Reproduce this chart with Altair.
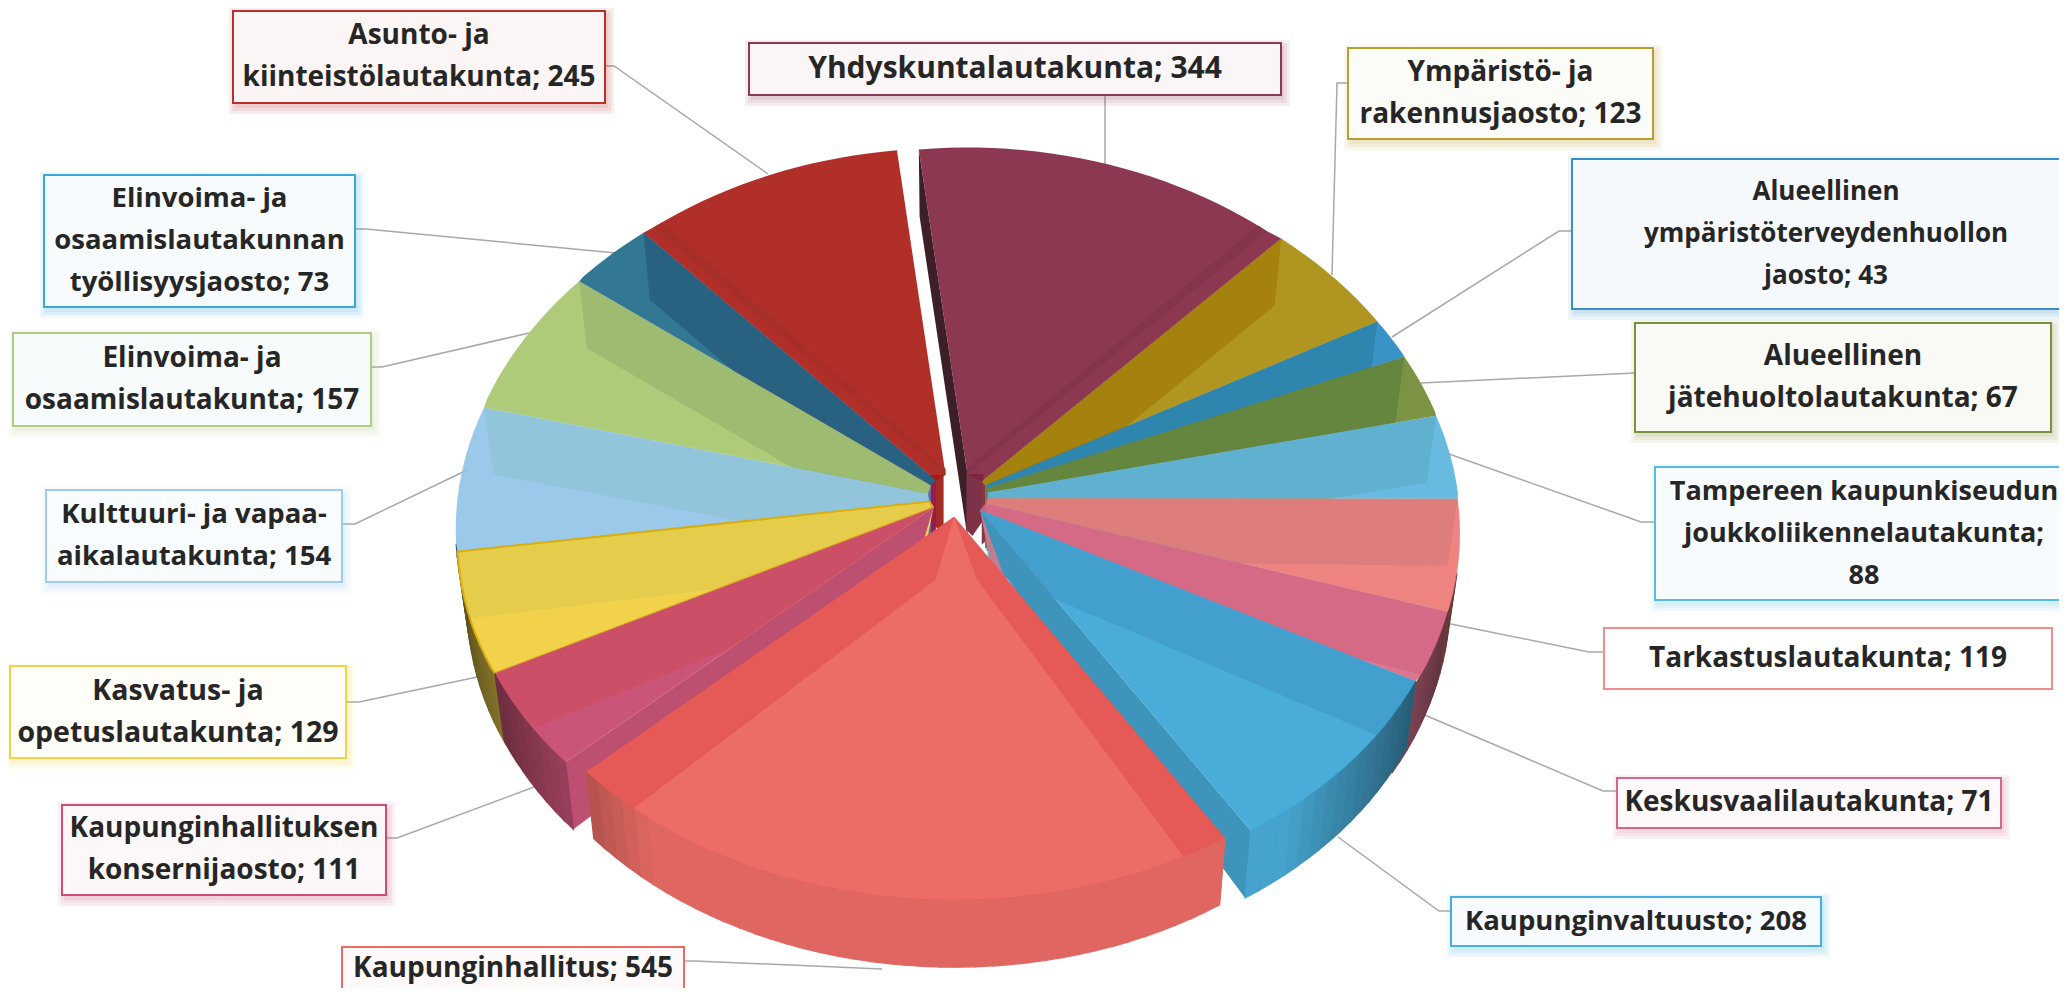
import math
import altair as alt
import pandas as pd

# ---- values ----
NAMES = [
    ["Yhdyskuntalautakunta"],
    ["Ympäristö- ja", "rakennusjaosto"],
    ["Alueellinen", "ympäristöterveydenhuollon", "jaosto"],
    ["Alueellinen", "jätehuoltolautakunta"],
    ["Tampereen kaupunkiseudun", "joukkoliikennelautakunta"],
    ["Tarkastuslautakunta"],
    ["Keskusvaalilautakunta"],
    ["Kaupunginvaltuusto"],
    ["Kaupunginhallitus"],
    ["Kaupunginhallituksen", "konsernijaosto"],
    ["Kasvatus- ja", "opetuslautakunta"],
    ["Kulttuuri- ja vapaa-", "aikalautakunta"],
    ["Elinvoima- ja", "osaamislautakunta"],
    ["Elinvoima- ja", "osaamislautakunnan", "työllisyysjaosto"],
    ["Asunto- ja", "kiinteistölautakunta"],
]
VALUES = [344, 123, 43, 67, 88, 119, 71, 208, 545, 111, 129, 154, 157, 73, 245]

# ---- colours ----
FACE = ["#8b3850", "#b19622", "#3894c6", "#7c9344", "#68bbe0", "#ee8480", "#dc7590", "#49acd9",
        "#ec6c66", "#cb5578", "#f2d24b", "#9ac9e9", "#aecb7b", "#347892", "#b0312a"]
STRIP = ["#3d2027", "#a5820f", "#2e86ae", "#66863f", "#60b2cf", "#de7f7c", "#d46a85", "#439fce",
         "#e55a56", "#cb5067", "#e5cd4c", "#92c5dc", "#9ebc72", "#2a6180", "#a52d2a"]
BORDER = ["#8b3a52", "#b8a030", "#3a8fc8", "#76923c", "#5bb8e0", "#f08c8c", "#d4688a", "#45aee0",
          "#ee6a66", "#cc4e78", "#f2d24b", "#9ccdf0", "#b0cc80", "#3aa8dc", "#b8302c"]
TINT = ["#faf6f7", "#fbfbf7", "#f6f9fb", "#f9f9f6", "#f8fbfe", "#ffffff", "#fdf8f9", "#f8fbfd",
        "#fef9f9", "#fcf8fa", "#fefdf8", "#f9fcfe", "#f8fbfc", "#f8fbfd", "#fbf6f5"]
SHADOW = [1, 1, 1, 1, 1, 0, 1, 1, 0, 1, 1, 1, 1, 1, 1]
LEADER_COLOR = "#a8a8a8"
TEXT_COLOR = "#262626"

# ---- layout (px of the picture): label boxes x0, y0, x1, y1 ----
BOXES = [
    (749, 43, 1281, 95), (1348, 48, 1653, 139), (1572, 159, 2080, 309), (1635, 323, 2051, 432),
    (1655, 467, 2073, 600), (1604, 628, 2052, 689), (1617, 778, 2001, 828), (1451, 897, 1821, 946),
    (342, 947, 684, 1000), (62, 805, 386, 895), (10, 666, 346, 758), (46, 490, 342, 582),
    (13, 333, 371, 426), (44, 175, 355, 307), (233, 11, 605, 103),
]
LABEL_SIZE = [30, 28, 26, 28, 27, 28, 28, 27.5, 28, 28, 28.5, 27.5, 28, 27.5, 28]
LEADERS = [
    [(1105, 95), (1105, 165)],
    [(1348, 83), (1337, 83), (1332, 275)],
    [(1572, 231), (1559, 231), (1392, 337)],
    [(1635, 373), (1421, 383)],
    [(1655, 522), (1641, 522), (1449, 454)],
    [(1604, 652), (1589, 652), (1446, 623)],
    [(1616, 791), (1603, 791), (1420, 713)],
    [(1451, 911), (1439, 911), (1338, 837)],
    [(684, 961), (695, 961), (882, 969)],
    [(386, 838), (397, 838), (534, 787)],
    [(346, 702), (359, 702), (482, 676)],
    [(342, 524), (355, 524), (467, 470)],
    [(371, 367), (382, 367), (529, 333)],
    [(355, 229), (366, 229), (616, 253)],
    [(605, 66), (614, 66), (768, 174)],
]
CX, CY, RX, RY = 958, 495, 470, 355
EX, EY = 30, 22          # explosion of every slice
KX, KY = 0.10, 0.08      # perspective
DEPTH, SQUEEZE = 67, 0.98
START = -6.6
LINE_STEP = 42
FONT = "Open Sans"
TOP_ALPHA = 0.9
KVALTUUSTO, KHALL, KONSERNI, KASVATUS, YHDYSK, ASUNTO = 7, 8, 9, 10, 0, 14


def rgb(h):
    return tuple(int(h[i:i + 2], 16) for i in (1, 3, 5))


def hexs(c):
    return "#%02x%02x%02x" % tuple(max(0, min(255, int(round(v)))) for v in c)


total = sum(VALUES)
angles = [START]
for v in VALUES:
    angles.append(angles[-1] + v / total * 360)

polys = []
uid = 0


def add(points, fill, op, stroke="transparent", sw=0.0):
    global uid
    uid += 1
    for x, y in list(points) + [points[0]]:
        polys.append(dict(id=uid, x=x, y=y, idx=len(polys), fill=fill, op=op, stroke=stroke, sw=sw))


def apex_of(i):
    m = math.radians((angles[i] + angles[i + 1]) / 2)
    return CX + EX * math.sin(m), CY - EY * math.cos(m)


def slice_fn(i):
    ax, ay = apex_of(i)

    def P(deg):
        t = math.radians(deg)
        s, c = math.sin(t), math.cos(t)
        return ax + RX * s * (1 - KX * c), ay - RY * c * (1 - KY * c)

    return (ax, ay), P


def low(p):
    return CX + (p[0] - CX) * SQUEEZE, p[1] + DEPTH


def arc_degrees(a, b, step=2.0):
    n = max(2, int(abs(b - a) / step) + 1)
    return [a + (b - a) * k / n for k in range(n + 1)]


def radial_wall(apex, P, deg, colour):
    p = P(deg)
    side = 1 if p[0] > apex[0] else -1
    shift = 27 * side * max(0.0, -math.cos(math.radians(deg)))
    add([apex, p, low(p), (apex[0] + shift, apex[1] + DEPTH - 4)], colour, 1)


order = sorted(range(len(VALUES)),
               key=lambda i: -math.cos(math.radians((angles[i] + angles[i + 1]) / 2)))
for i in order:
    a, b = angles[i], angles[i + 1]
    apex, P = slice_fn(i)
    L = rgb(FACE[i])
    S = rgb(STRIP[i])
    through = hexs([255 - (l - s) / (1 - TOP_ALPHA) for l, s in zip(L, S)])
    right_half = (a + b) / 2 < 180 if i != KHALL else True
    upper, lower = (a, b) if right_half else (b, a)
    # radial walls: the upper one shows through the face, the lower only where a real gap opens
    if i == YHDYSK:
        radial_wall(apex, P, upper, STRIP[i])
    elif i != ASUNTO:
        radial_wall(apex, P, upper, through)
    if i == KHALL:
        radial_wall(apex, P, lower, through)
    if i in (KVALTUUSTO, KONSERNI):
        radial_wall(apex, P, lower, hexs([v * (0.86 if i == KVALTUUSTO else 0.93) for v in L]))
    # the stub of the two back slices at the hub
    if i == ASUNTO:
        add([(apex[0] - 18, apex[1]), (apex[0] - 2, apex[1]), (apex[0] - 2, apex[1] + 58),
             (apex[0] - 18, apex[1] + 46)], hexs([v * 0.92 for v in L]), 1)
    if i == YHDYSK:
        add([(apex[0] - 1, apex[1]), (apex[0] + 16, apex[1]), (apex[0] + 16, apex[1] + 46),
             (apex[0] + 5, apex[1] + 62), (apex[0] - 1, apex[1] + 56)], hexs([v * 0.9 for v in L]), 1)
    # outer wall, only on the near half
    extra = 0 if i in (KVALTUUSTO, KHALL, KONSERNI) else 5.5
    lo, hi = max(a - (extra if not right_half else 0), 102), min(b + (extra if right_half else 0), 262)
    if hi > lo:
        ds = arc_degrees(lo, hi)
        for d0, d1 in zip(ds[:-1], ds[1:]):
            p0, p1 = P(d0), P(d1)
            s = abs(math.sin(math.radians((d0 + d1) / 2)))
            f = 0.95 * (1 - 0.6 * max(0.0, (s - 0.6) / 0.4))
            col = hexs([v * f for v in L])
            add([p0, p1, low(p1), low(p0)], col, 1, col, 1.2)
    # top face: it runs on to the corner of the slice in front, so that no gap shows
    top = hexs([(v - (1 - TOP_ALPHA) * 255) / TOP_ALPHA for v in L])
    arc = [P(d) for d in arc_degrees(a, b)]
    if i in (KVALTUUSTO, KHALL, KONSERNI):
        pts = [apex] + arc
    elif right_half:
        pts = [apex] + arc + [slice_fn(i + 1)[1](b), apex_of(i + 1)]
    else:
        pts = [apex_of(i - 1), slice_fn(i - 1)[1](a)] + arc + [apex]
    if i == KASVATUS:
        add(pts, top, TOP_ALPHA, "#d9ae10", 2.0)
    else:
        add(pts, top, TOP_ALPHA)
    # the narrow bevel along the lower edge of the two back slices
    if i in (YHDYSK, ASUNTO):
        inner = lower - 1.5 if i == YHDYSK else lower + 1.5
        add([apex, P(lower), P(inner), (apex[0], apex[1] - 6)], hexs([v * 0.95 for v in L]), 1)

poly_df = pd.DataFrame(polys)

leader_rows = []
for i, pts in enumerate(LEADERS):
    for k, (x, y) in enumerate(pts):
        leader_rows.append(dict(id=i, k=k, x=x, y=y))
leader_df = pd.DataFrame(leader_rows)

box_rows, shadow_rows, text_rows = [], [], []
for i, (x0, y0, x1, y1) in enumerate(BOXES):
    box_rows.append(dict(x0=x0, y0=y0, x1=x1, y1=y1, fill=TINT[i], border=BORDER[i]))
    if SHADOW[i]:
        for grow in (0, 3, 6):
            shadow_rows.append(dict(x0=x0 + 2 - grow, y0=y0 + 3 - grow, x1=x1 + 3 + grow, y1=y1 + 5 + grow,
                                    c=BORDER[i]))
    lines = list(NAMES[i])
    if i == 4:
        lines[-1] += ";"
        lines.append(str(VALUES[i]))
    else:
        lines[-1] += "; %d" % VALUES[i]
    mid = (y0 + y1) / 2 if i != KHALL else 969
    for k, t in enumerate(lines):
        text_rows.append(dict(x=(x0 + x1) / 2, y=mid + (k - (len(lines) - 1) / 2) * LINE_STEP, t=t,
                              fs=LABEL_SIZE[i]))
box_df, shadow_df, text_df = pd.DataFrame(box_rows), pd.DataFrame(shadow_rows), pd.DataFrame(text_rows)

X = alt.Scale(domain=[8, 2059], zero=False, nice=False)
Y = alt.Scale(domain=[988, 8], zero=False, nice=False)

leaders = alt.Chart(leader_df).mark_line(color=LEADER_COLOR, strokeWidth=1.5).encode(
    x=alt.X("x:Q", scale=X, axis=None), y=alt.Y("y:Q", scale=Y, axis=None),
    detail="id:N", order="k:Q")

pie = alt.Chart(poly_df).mark_line().encode(
    x=alt.X("x:Q", scale=X, axis=None), y=alt.Y("y:Q", scale=Y, axis=None),
    detail="id:N", order="idx:Q",
    fill=alt.Fill("fill:N", scale=None),
    fillOpacity=alt.FillOpacity("op:Q", scale=None),
    stroke=alt.Stroke("stroke:N", scale=None),
    strokeWidth=alt.StrokeWidth("sw:Q", scale=None))

shadow = alt.Chart(shadow_df).mark_rect(opacity=0.09).encode(
    x=alt.X("x0:Q", scale=X, axis=None), x2="x1:Q",
    y=alt.Y("y0:Q", scale=Y, axis=None), y2="y1:Q",
    fill=alt.Fill("c:N", scale=None))

boxes = alt.Chart(box_df).mark_rect(strokeWidth=2).encode(
    x=alt.X("x0:Q", scale=X, axis=None), x2="x1:Q",
    y=alt.Y("y0:Q", scale=Y, axis=None), y2="y1:Q",
    fill=alt.Fill("fill:N", scale=None), stroke=alt.Stroke("border:N", scale=None))

texts = alt.Chart(text_df).mark_text(font=FONT, fontWeight="bold", color=TEXT_COLOR,
                                     align="center", baseline="middle").encode(
    x=alt.X("x:Q", scale=X, axis=None), y=alt.Y("y:Q", scale=Y, axis=None), text="t:N",
    size=alt.Size("fs:Q", scale=None))

chart = alt.layer(leaders, pie, shadow, boxes, texts).properties(
    width=2051, height=980, padding=0, background="white",
    autosize=alt.AutoSizeParams(type="none"),
).configure_view(stroke=None)

chart.save("out.html", embed_options={"renderer": "svg", "actions": False})
